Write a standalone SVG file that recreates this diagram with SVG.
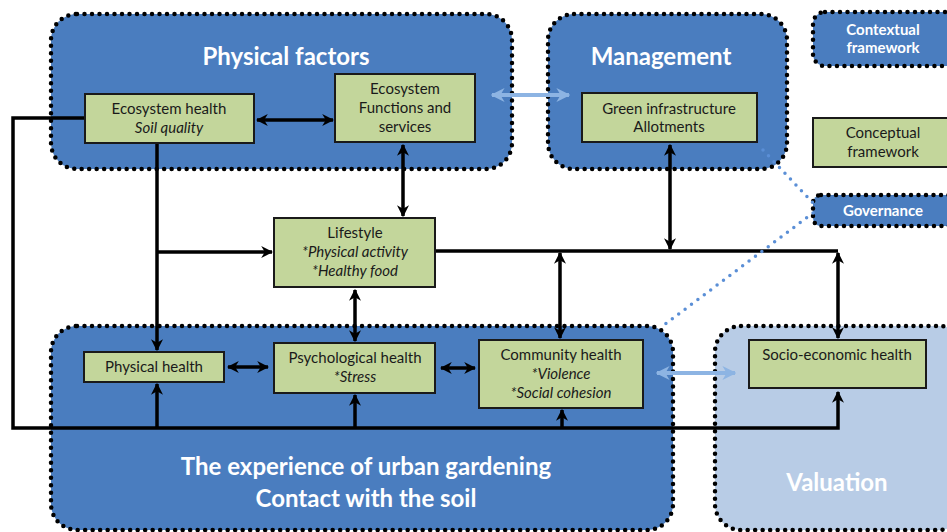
<svg xmlns="http://www.w3.org/2000/svg" width="947" height="532" viewBox="0 0 947 532">
<style>
.cont{fill:#4a7dbf;stroke:#000;stroke-width:4.5;stroke-dasharray:0 7.5;stroke-linecap:round}
.val{fill:#b8cce6;stroke:#000;stroke-width:4.5;stroke-dasharray:0 7.5;stroke-linecap:round}
.box{fill:#c3d69b;stroke:#1a1a1a;stroke-width:2}
.t{font-family:Lato,"Liberation Sans",sans-serif;font-size:15px;fill:#1a1a1a;text-anchor:middle}
.i{font-style:italic}
.h{font-family:Lato,"Liberation Sans",sans-serif;font-weight:bold;fill:#fff;text-anchor:middle}
.ln{fill:none;stroke:#000;stroke-width:3.5}
.lb{fill:none;stroke:#8db4e3;stroke-width:4}
</style>
<defs>
<marker id="ah" viewBox="0 0 10 10" refX="9" refY="5" markerWidth="12" markerHeight="12" markerUnits="userSpaceOnUse" orient="auto-start-reverse"><path d="M0,0 L10,5 L0,10 L3,5 Z" fill="#000"/></marker>
<marker id="ab" viewBox="0 0 10 10" refX="9" refY="5" markerWidth="14" markerHeight="14" markerUnits="userSpaceOnUse" orient="auto-start-reverse"><path d="M0,0 L10,5 L0,10 L3,5 Z" fill="#8db4e3"/></marker>
</defs>
<rect width="947" height="532" fill="#fff"/>
<g id="physical-factors"><rect class="cont" x="51" y="14" width="461" height="155" rx="26"/><text class="h" x="286" y="65" font-size="24">Physical factors</text></g>
<g id="management"><rect class="cont" x="548" y="14" width="239" height="155" rx="26"/><text class="h" x="661" y="65" font-size="24">Management</text></g>
<g id="experience"><rect class="cont" x="51" y="326" width="622" height="204" rx="26"/><text class="h" x="366" y="475" font-size="24">The experience of urban gardening</text><text class="h" x="366" y="507" font-size="24">Contact with the soil</text></g>
<g id="valuation"><rect class="val" x="715" y="326" width="250" height="204" rx="26"/><text class="h" x="837" y="491" font-size="24" fill="#eef3fa">Valuation</text></g>
<g id="contextual-framework"><rect class="cont" x="813" y="12" width="150" height="54" rx="12"/><text class="h" x="883" y="35" font-size="15">Contextual</text><text class="h" x="883" y="53" font-size="15">framework</text></g>
<g id="conceptual-framework"><rect class="box" x="813" y="118" width="150" height="49"/><text class="t" x="883" y="138">Conceptual</text><text class="t" x="883" y="157">framework</text></g>
<g id="governance"><rect class="cont" x="813" y="195" width="150" height="31" rx="8"/><text class="h" x="883" y="216" font-size="15">Governance</text></g>
<g id="connectors">
<path class="ln" d="M85,118 H13 V428 H838 V392" marker-end="url(#ah)"/>
<path class="ln" d="M157,143 V350" marker-end="url(#ah)"/>
<path class="ln" d="M157,252 H272" marker-end="url(#ah)"/>
<path class="ln" d="M157,428 V384" marker-end="url(#ah)"/>
<path class="ln" d="M355,428 V395" marker-end="url(#ah)"/>
<path class="ln" d="M562,428 V410" marker-end="url(#ah)"/>
<path class="ln" d="M257,120 H333" marker-start="url(#ah)" marker-end="url(#ah)"/>
<path class="ln" d="M403,145 V216" marker-start="url(#ah)" marker-end="url(#ah)"/>
<path class="ln" d="M355,290 V341" marker-start="url(#ah)" marker-end="url(#ah)"/>
<path class="ln" d="M228,367 H268" marker-start="url(#ah)" marker-end="url(#ah)"/>
<path class="ln" d="M441,368 H475" marker-start="url(#ah)" marker-end="url(#ah)"/>
<path class="ln" d="M435,251 H838"/>
<path class="ln" d="M670,145 V249" marker-start="url(#ah)" marker-end="url(#ah)"/>
<path class="ln" d="M560,253 V338" marker-start="url(#ah)" marker-end="url(#ah)"/>
<path class="ln" d="M838,253 V338" marker-start="url(#ah)" marker-end="url(#ah)"/>
<path class="lb" d="M492,95 H569" marker-start="url(#ab)" marker-end="url(#ab)"/>
<path class="lb" d="M657,373 H735" marker-start="url(#ab)" marker-end="url(#ab)"/>
<path d="M763,150 L813,203 M813,213 L660,328" fill="none" stroke="#5b8fd6" stroke-width="3.5" stroke-dasharray="0 8" stroke-linecap="round"/>
</g>
<g id="ecosystem-health"><rect class="box" x="85" y="94" width="169" height="49"/><text class="t" x="169" y="114">Ecosystem health</text><text class="t i" x="169" y="133">Soil quality</text></g>
<g id="ecosystem-functions"><rect class="box" x="335" y="74" width="140" height="68"/><text class="t" x="405" y="94">Ecosystem</text><text class="t" x="405" y="113">Functions and</text><text class="t" x="405" y="132">services</text></g>
<g id="green-infrastructure"><rect class="box" x="582" y="93" width="175" height="49"/><text class="t" x="669" y="114">Green infrastructure</text><text class="t" x="669" y="132">Allotments</text></g>
<g id="lifestyle"><rect class="box" x="274" y="218" width="161" height="69"/><text class="t" x="355" y="238">Lifestyle</text><text class="t i" x="355" y="257">*Physical activity</text><text class="t i" x="355" y="276">*Healthy food</text></g>
<g id="physical-health"><rect class="box" x="84" y="352" width="140" height="30"/><text class="t" x="154" y="372">Physical health</text></g>
<g id="psychological-health"><rect class="box" x="274" y="343" width="161" height="50"/><text class="t" x="355" y="363">Psychological health</text><text class="t i" x="355" y="382">*Stress</text></g>
<g id="community-health"><rect class="box" x="479" y="340" width="164" height="68"/><text class="t" x="561" y="360">Community health</text><text class="t i" x="561" y="379">*Violence</text><text class="t i" x="561" y="398">*Social cohesion</text></g>
<g id="socio-economic-health"><rect class="box" x="749" y="340" width="177" height="48"/><text class="t" x="837" y="360">Socio-economic health</text></g>
</svg>
